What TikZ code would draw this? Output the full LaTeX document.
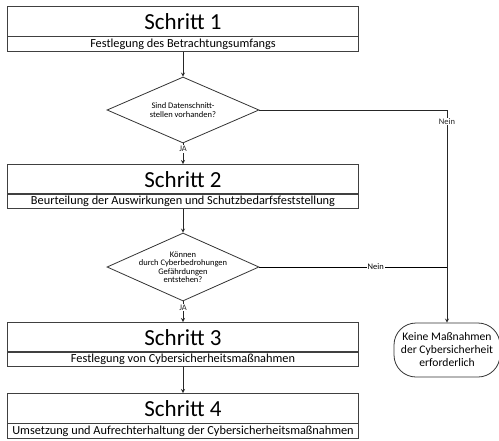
\documentclass[tikz,border=0pt]{standalone}
\usepackage{fontspec}
\setmainfont{Carlito}
\usetikzlibrary{arrows,positioning,shapes.geometric}

\begin{document}
\begin{tikzpicture}[
    x=1pt, y=-1pt,
    line width=0.8pt,
    title/.style={rectangle, draw=black!75, minimum width=351pt, minimum height=30pt, inner sep=0pt, anchor=north, font=\fontsize{23}{23}\selectfont},
    subtitle/.style={rectangle, draw=black!75, minimum width=351pt, minimum height=15pt, inner sep=0pt, anchor=north, font=\fontsize{12.3}{13}\selectfont},
    decision/.style={diamond, draw=black!80, minimum width=152pt, minimum height=66pt, inner sep=0pt},
    question/.style={align=center, inner sep=0pt, font=\fontsize{8.5}{8.5}\selectfont},
    terminal/.style={rectangle, rounded corners=22pt, draw=black!80, minimum width=106pt, minimum height=54pt, align=center, inner sep=0pt, font=\fontsize{11.6}{13}\selectfont},
    answer/.style={fill=white, inner sep=1pt, font=\fontsize{8.5}{8.5}\selectfont},
    arrow/.style={->, >=stealth, black!85}
]
\useasboundingbox (0,0) rectangle (499,440);

% Schritte
\node[title] (s1) at (183,6) {Schritt 1};
\node[subtitle] (s1sub) at (183,36) {Festlegung des Betrachtungsumfangs};
\node[title] (s2) at (183,164) {Schritt 2};
\node[subtitle] (s2sub) at (183,193) {Beurteilung der Auswirkungen und Schutzbedarfsfeststellung};
\node[title] (s3) at (183,322) {Schritt 3};
\node[subtitle] (s3sub) at (183,351) {Festlegung von Cybersicherheitsmaßnahmen};
\node[title] (s4) at (183,393) {Schritt 4};
\node[subtitle] (s4sub) at (183,423) {Umsetzung und Aufrechterhaltung der Cybersicherheitsmaßnahmen};

% Entscheidungen
\node[decision] (d1) at (183,110) {};
\node[question] (d1txt) at (183,110) {Sind Datenschnitt-\\stellen vorhanden?};
\node[decision, minimum height=68pt] (d2) at (183,267) {};
\node[question] (d2txt) at (183,267) {Können\\durch Cyberbedrohungen\\Gefährdungen\\entstehen?};

\node[terminal] (none) at (447,350) {Keine Maßnahmen\\der Cybersicherheit\\erforderlich};
\coordinate (join) at (none.north |- d2.east);

\draw[arrow] (s1sub) -- (d1);
\draw[arrow] (d1) -- node[answer, pos=0.28] {JA} (s2);
\draw[arrow] (s2sub) -- (d2);
\draw[arrow] (d2) -- node[answer, pos=0.3] {JA} (s3);
\draw[arrow] (s3sub) -- (s4);
\draw[arrow] (d1.east) -| node[answer, pos=0.527] {Nein} (none.north);
\draw (d2.east) -- node[answer, pos=0.62] {Nein} (join);
\end{tikzpicture}
\end{document}
